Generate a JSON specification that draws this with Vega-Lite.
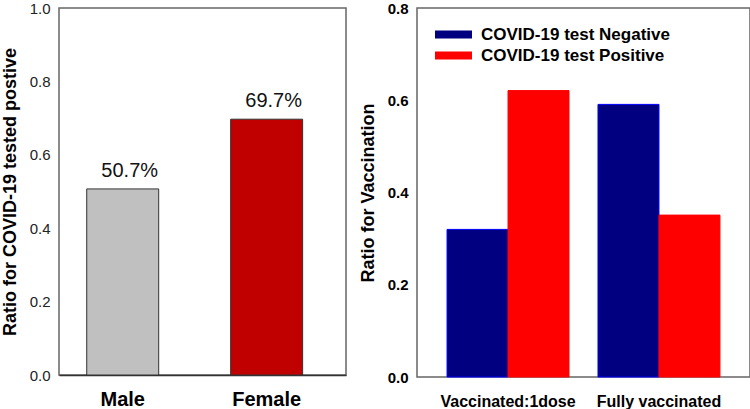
{
  "$schema": "https://vega.github.io/schema/vega-lite/v6.json",
  "padding": {"left": 0, "top": 0, "right": 0, "bottom": 0},
  "background": "white",
  "config": {
    "view": {"stroke": "#666666", "strokeWidth": 1.5},
    "axis": {"ticks": false, "tickSize": 0, "grid": false, "domain": false},
    "font": "Liberation Sans"
  },
  "resolve": {"scale": {"color": "independent", "stroke": "independent"}, "legend": {"color": "independent"}},
  "spacing": 11,
  "hconcat": [
    {
      "width": 287,
      "height": 367,
      "data": {"values": [
        {"sex": "Male", "ratio": 0.507, "label": "50.7%"},
        {"sex": "Female", "ratio": 0.697, "label": "69.7%"}
      ]},
      "encoding": {
        "x": {"field": "sex", "type": "nominal", "sort": ["Male", "Female"],
          "scale": {"paddingInner": 0.5, "paddingOuter": 0.247, "align": 0.39},
          "axis": {"title": null, "labelAngle": 0, "labelFont": "Liberation Sans", "labelFontWeight": "bold", "labelFontSize": 20, "labelColor": "#000000", "labelPadding": 14, "domain": true, "domainColor": "#333333", "domainWidth": 1.5}},
        "y": {"field": "ratio", "type": "quantitative", "scale": {"domain": [0, 1]},
          "axis": {"title": "Ratio for COVID-19 tested postive", "titleFont": "Liberation Sans", "titleFontSize": 18, "titleFontWeight": "bold", "titleColor": "#000000", "titlePadding": 10,
            "labelFont": "Liberation Sans", "labelFontSize": 15, "labelColor": "#222222", "labelPadding": 9, "values": [0, 0.2, 0.4, 0.6, 0.8, 1], "format": ".1f"}}
      },
      "layer": [
        {"mark": {"type": "bar", "stroke": "#333333", "strokeWidth": 1},
          "encoding": {"color": {"field": "sex", "type": "nominal", "scale": {"domain": ["Male", "Female"], "range": ["#c0c0c0", "#c00000"]}, "legend": null}}},
        {"mark": {"type": "text", "baseline": "alphabetic", "dy": -12, "dx": 7, "font": "Liberation Sans", "fontSize": 20, "color": "#111111"},
          "encoding": {"text": {"field": "label"}}}
      ]
    },
    {
      "width": 333,
      "height": 369,
      "data": {"values": [
        {"group": "Vaccinated:1dose", "test": "COVID-19 test Negative", "ratio": 0.32},
        {"group": "Vaccinated:1dose", "test": "COVID-19 test Positive", "ratio": 0.621},
        {"group": "Fully vaccinated", "test": "COVID-19 test Negative", "ratio": 0.591},
        {"group": "Fully vaccinated", "test": "COVID-19 test Positive", "ratio": 0.351}
      ]},
      "mark": {"type": "bar", "strokeWidth": 1},
      "encoding": {
        "x": {"field": "group", "type": "nominal", "sort": ["Vaccinated:1dose", "Fully vaccinated"],
          "scale": {"paddingInner": 0.192, "paddingOuter": 0.199},
          "axis": {"title": null, "labelAngle": 0, "labelFont": "Liberation Sans", "labelFontWeight": "bold", "labelFontSize": 16, "labelColor": "#000000", "labelPadding": 16}},
        "xOffset": {"field": "test", "type": "nominal", "scale": {"paddingInner": 0, "paddingOuter": 0}},
        "y": {"field": "ratio", "type": "quantitative", "scale": {"domain": [0, 0.8]},
          "axis": {"title": "Ratio for Vaccination", "titleFont": "Liberation Sans", "titleFontSize": 18, "titleFontWeight": "bold", "titleColor": "#000000", "titlePadding": 10,
            "labelFont": "Liberation Sans", "labelFontSize": 15, "labelFontWeight": "bold", "labelColor": "#000000", "labelPadding": 9, "values": [0, 0.2, 0.4, 0.6, 0.8], "format": ".1f"}},
        "color": {"field": "test", "type": "nominal",
          "scale": {"domain": ["COVID-19 test Negative", "COVID-19 test Positive"], "range": ["#000080", "#ff0000"]},
          "legend": {"orient": "none", "legendX": 27, "legendY": 17, "title": null, "padding": 0,
            "symbolType": "M-2,-0.44L2,-0.44L2,0.44L-2,0.44Z", "symbolSize": 342, "symbolStrokeWidth": 0,
            "labelFont": "Liberation Sans", "labelFontSize": 17, "labelFontWeight": "bold", "labelColor": "#000000", "labelOffset": 18, "labelLimit": 400, "rowPadding": 3}},
        "stroke": {"field": "test", "type": "nominal",
          "scale": {"domain": ["COVID-19 test Negative", "COVID-19 test Positive"], "range": ["#0000ff", "#ff0000"]}, "legend": null}
      }
    }
  ]
}
